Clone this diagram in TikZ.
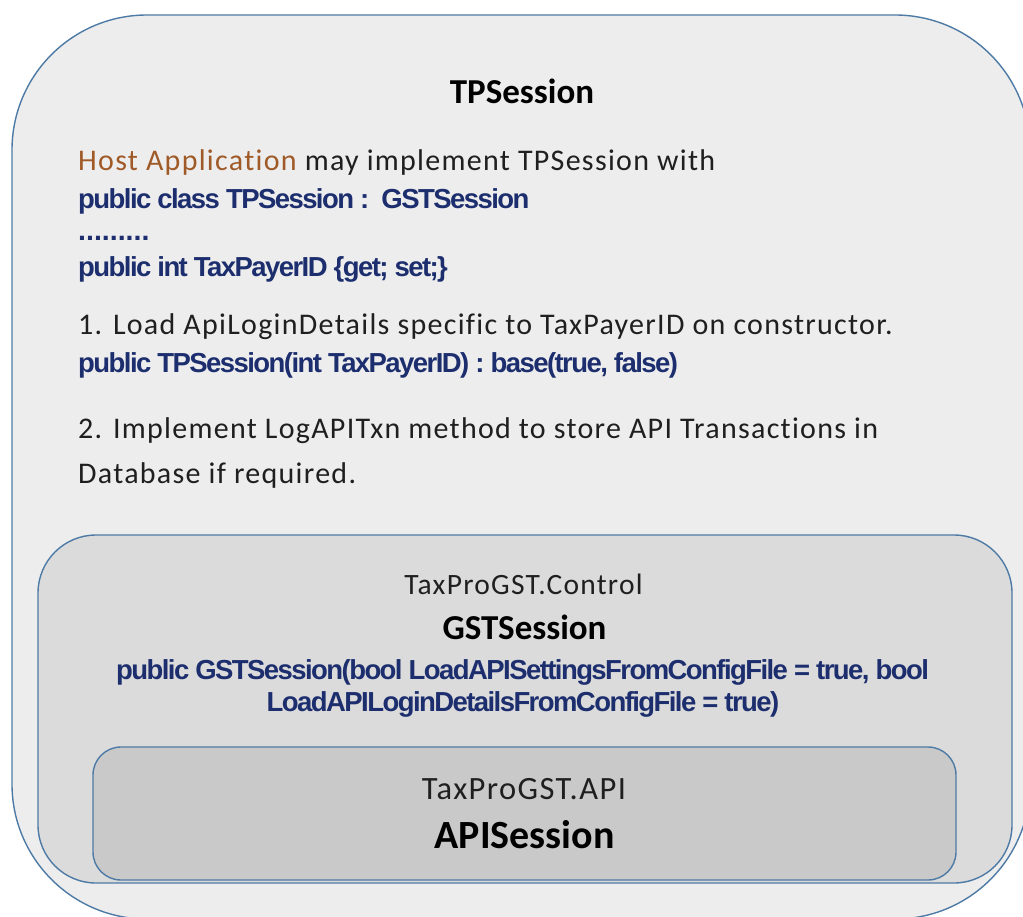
\documentclass[tikz,border=0pt]{standalone}
\usepackage{fontspec}
\setmainfont{Carlito}
\newfontfamily\bodyfont[LetterSpace=4.3,Ligatures=NoCommon]{Carlito}
\newfontfamily\codefont[LetterSpace=-5.7]{Liberation Sans}
\newfontfamily\dotfont{Liberation Sans}
\definecolor{edge}{RGB}{78,122,166}
\definecolor{outerfill}{RGB}{237,237,237}
\definecolor{midfill}{RGB}{219,219,219}
\definecolor{innerfill}{RGB}{201,201,201}
\definecolor{codeblue}{RGB}{28,46,110}
\definecolor{hostbrown}{RGB}{160,90,40}
\tikzset{
  box/.style={draw=edge, line width=1.4pt, inner sep=0pt, outer sep=0pt},
  body/.style={anchor=base west, inner sep=0pt, font=\bodyfont\fontsize{30}{34}\selectfont, text=black!88},
  code/.style={anchor=base west, inner sep=0pt, font=\codefont\bfseries\fontsize{27.5}{32}\selectfont, text=codeblue},
  codec/.style={code, anchor=base},
  title/.style={anchor=base, inner sep=0pt, font=\bfseries\fontsize{35}{40}\selectfont, text=black},
  pkg/.style={anchor=base, inner sep=0pt, font=\bodyfont\fontsize{29.5}{34}\selectfont, text=black!88}
}
\begin{document}
\begin{tikzpicture}[x=1pt,y=-1pt]
\useasboundingbox (0,0) rectangle (1023,916);
\fill[white] (0,0) rectangle (1023,916);
\clip (0,0) rectangle (1023,916);
\node[box, fill=outerfill, rounded corners=135pt, minimum width=1018pt, minimum height=904pt] (outer) at (521,467) {};
\node[box, fill=midfill, rounded corners=58pt, minimum width=974pt, minimum height=348pt] (mid) at (525,709) {};
\node[box, fill=innerfill, rounded corners=28pt, minimum width=863pt, minimum height=133pt] (inner) at (524.5,813.5) {};

\node[title] (tpt) at (522,103) {TPSession};
\node[body] (host) at (78,170) {\textcolor{hostbrown}{Host Application} may implement TPSession with};
\node[code] (c1) at (78,208) {public class TPSession :\ \ GSTSession};
\node[code, font=\dotfont\bfseries\fontsize{28.5}{32}\selectfont] (dots) at (78,240) {.........};
\node[code] (c2) at (78,276) {public int TaxPayerID \{get; set;\}};
\node[body] (s1) at (78,334) {1. Load ApiLoginDetails specific to TaxPayerID on constructor.};
\node[code] (c3) at (78,372) {public TPSession(int TaxPayerID) : base(true, false)};
\node[body] (s2a) at (78,438) {2. Implement LogAPITxn method to store API Transactions in};
\node[body] (s2b) at (78,483) {Database if required.};

\node[pkg] (ctl) at (523.5,594) {TaxProGST.Control};
\node[title] (gst) at (524.5,639) {GSTSession};
\node[codec] (g1) at (522.5,679) {public GSTSession(bool LoadAPISettingsFromConfigFile = true, bool};
\node[codec] (g2) at (523,711) {LoadAPILoginDetailsFromConfigFile = true)};

\node[pkg, font=\bodyfont\fontsize{32.5}{36}\selectfont] (api) at (524,799) {TaxProGST.API};
\node[title, font=\bfseries\fontsize{40}{44}\selectfont] (apis) at (524.5,848) {APISession};
\end{tikzpicture}
\end{document}
